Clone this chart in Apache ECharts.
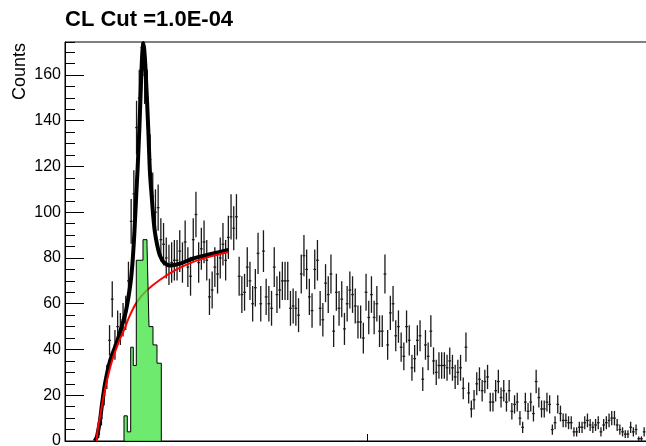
<!DOCTYPE html>
<html>
<head>
<meta charset="utf-8">
<script src="https://cdn.jsdelivr.net/npm/echarts@6/dist/echarts.min.js"></script>
<style>
html, body { margin: 0; padding: 0; background: #fff; }
#cl_chart { width: 646px; height: 446px; }
</style>
</head>
<body>
<div id="cl_chart"></div>
<script>
// HISTOGRAM: ONE COUNT PER BIN, BIN WIDTH 1, FIRST BIN STARTS AT binStart
var binStart = 11;
var counts = [
    1, 3, 10, 20, 28, 44, 62, 42, 50, 49, 53, 56, 70, 96, 108, 137, 150, 172, 160, 150,
    123, 107, 100, 102, 88, 86, 80, 77, 78, 79,
    79, 83, 78, 87, 76, 72, 88, 99, 78, 84, 87, 79, 63, 66, 76, 73, 80, 86, 79, 89,
    98, 93, 98, 72, 64, 65, 76, 70, 60, 67, 82, 60, 83, 63,
    60, 58, 76, 64, 66, 70, 70, 70, 58, 59, 58, 55, 73, 81, 75, 63, 57, 75, 79, 58,
    53, 69, 64, 73, 48, 65, 58, 62, 49, 60, 66,
    64, 59, 52, 52, 45, 65, 54, 64, 54, 60, 48, 48, 73, 42, 56, 60, 46, 50, 41, 37,
    50, 44, 32, 36, 44, 46, 27, 42, 37, 48, 35, 30, 33,
    33, 33, 32, 35, 32, 28, 30, 32, 23, 41, 21, 14, 18, 25, 27, 22, 26, 28, 17, 17,
    22, 26, 19, 22, 17, 22, 13, 16, 17, 10, 6, 17, 13, 17, 12, 26, 19, 14, 14,
    17, 16, 5, 8, 16, 12, 9, 9, 8, 8, 4, 4, 6, 6, 8, 9, 7, 6, 7, 8,
    4, 7, 8, 9, 10, 10, 7, 5, 4, 3, 3, 6, 4, 5, 1, 1, 4
];

// FIT CURVE (signal + background)
var fitX = [11.0, 11.85, 12.96, 13.7, 14.81, 16.67, 19.15, 21.0, 22.6, 24.26, 25.0, 25.74, 26.4, 26.85,
            27.52, 28.33, 28.7, 29.0, 29.35, 29.81, 30.85, 31.48, 32.11, 32.7, 33.33, 34.26, 35.19,
            36.67, 38.89, 42.59, 47.52, 53.7, 60.48];
var fitY = [0, 2, 9, 16, 25, 35, 43, 50, 57, 69, 78, 92, 108, 118,
            136, 162, 171, 174, 171, 163, 136, 117, 107, 98, 91, 85, 81,
            78, 76.7, 77.5, 79.8, 81.6, 83.5];

// BACKGROUND CURVE
var bkgX = [11.67, 12.22, 12.96, 14.07, 15.44, 17.41, 19.63, 21.85, 24.07, 26.48, 30.0, 35.19, 41.37, 47.52, 53.7, 60.48];
var bkgY = [0, 6, 10.5, 18, 26, 35, 42.5, 48.5, 55, 60.5, 65.5, 70.5, 75, 78.3, 80.6, 82.6];

// SIGNAL HISTOGRAM (green)
var sigEdges = [21.85, 23.07, 24.33, 25.30, 26.41, 28.89, 30.37, 31.11, 32.59, 34.07, 35.67];
var sigCounts = [11, 4, 41, 33, 79, 88, 86, 50, 42, 34];

var yMax = 174.4;
var xMax = 230;

function renderErrorBar(params, api) {
    var x = api.value(0);
    var y = api.value(1);
    var e = Math.sqrt(y);
    var top = api.coord([x, y + e]);
    var bot = api.coord([x, y - e]);
    var lft = api.coord([x - 0.5, y]);
    var rgt = api.coord([x + 0.5, y]);
    var st = { stroke: '#1a1a1a', lineWidth: 1.3 };
    return {
        type: 'group',
        children: [
            { type: 'line', shape: { x1: top[0], y1: top[1], x2: bot[0], y2: bot[1] }, style: st },
            { type: 'line', shape: { x1: lft[0], y1: lft[1], x2: rgt[0], y2: rgt[1] }, style: st }
        ]
    };
}

function loadChart() {
    var pts = [];
    for (var i = 0; i < counts.length; i++) {
        pts.push([binStart + i + 0.5, counts[i]]);
    }
    var fitData = fitX.map(function (x, i) { return [x, fitY[i]]; });
    var bkgData = bkgX.map(function (x, i) { return [x, bkgY[i]]; });

    var sigData = [[sigEdges[0], 0]];
    for (var j = 0; j < sigCounts.length; j++) {
        sigData.push([sigEdges[j], sigCounts[j]]);
    }
    var last = sigEdges[sigEdges.length - 1];
    sigData.push([last, sigCounts[sigCounts.length - 1]]);
    sigData.push([last, 0]);

    var myChart = echarts.init(document.getElementById('cl_chart'));

    var option = {
        animation: false,
        backgroundColor: '#fff',
        title: {
            text: 'CL Cut =1.0E-04',
            left: 65,
            top: 9,
            padding: 0,
            textStyle: { fontFamily: 'Liberation Sans', fontWeight: 'bold', fontSize: 22, color: '#000' }
        },
        graphic: [{
            type: 'text',
            x: 20.5,
            y: 43,
            rotation: Math.PI / 2,
            style: {
                text: 'Counts',
                font: '18px "Liberation Sans"',
                fill: '#000',
                align: 'right',
                verticalAlign: 'middle',
                textAlign: 'right',
                textVerticalAlign: 'middle'
            }
        }],
        grid: {
            left: 65,
            top: 42,
            width: 621,
            height: 399,
            show: true,
            borderColor: '#000',
            borderWidth: 1,
            backgroundColor: 'transparent',
            outerBoundsMode: 'none',
            containLabel: false
        },
        xAxis: {
            type: 'value',
            min: 0,
            max: xMax,
            interval: 112,
            axisLine: { show: true, lineStyle: { color: '#000', width: 1 } },
            axisTick: { show: true, inside: true, length: 7, lineStyle: { color: '#000' } },
            axisLabel: { show: false },
            splitLine: { show: false }
        },
        yAxis: [
            {
                type: 'value',
                min: 0,
                max: yMax,
                interval: 20,
                position: 'left',
                axisLine: { show: true, lineStyle: { color: '#000', width: 1 } },
                axisTick: { show: true, inside: true, length: 19, lineStyle: { color: '#000' } },
                axisLabel: {
                    show: true, margin: 4, color: '#000', fontSize: 16,
                    fontFamily: 'Liberation Sans', showMaxLabel: false
                },
                splitLine: { show: false }
            },
            {
                type: 'value',
                min: 0,
                max: yMax,
                interval: 5,
                position: 'left',
                offset: 0,
                axisLine: { show: false },
                axisTick: { show: true, inside: true, length: 10, lineStyle: { color: '#000' } },
                axisLabel: { show: false },
                splitLine: { show: false }
            }
        ],
        series: [
            {
                name: 'Data',
                type: 'custom',
                renderItem: renderErrorBar,
                data: pts,
                encode: { x: 0, y: 1 },
                clip: true,
                z: 2
            },
            {
                name: 'Fit',
                type: 'line',
                data: fitData,
                smooth: 0.3,
                showSymbol: false,
                lineStyle: { color: '#000', width: 4 },
                z: 3
            },
            {
                name: 'Background',
                type: 'line',
                data: bkgData,
                smooth: 0.3,
                showSymbol: false,
                lineStyle: { color: '#ff0000', width: 2 },
                z: 4
            },
            {
                name: 'Signal',
                type: 'line',
                data: sigData,
                step: 'end',
                showSymbol: false,
                lineStyle: { color: '#000', width: 1 },
                areaStyle: { color: '#3ee43e', opacity: 0.75 },
                z: 5
            }
        ]
    };

    myChart.setOption(option);
}

loadChart();
</script>
</body>
</html>
